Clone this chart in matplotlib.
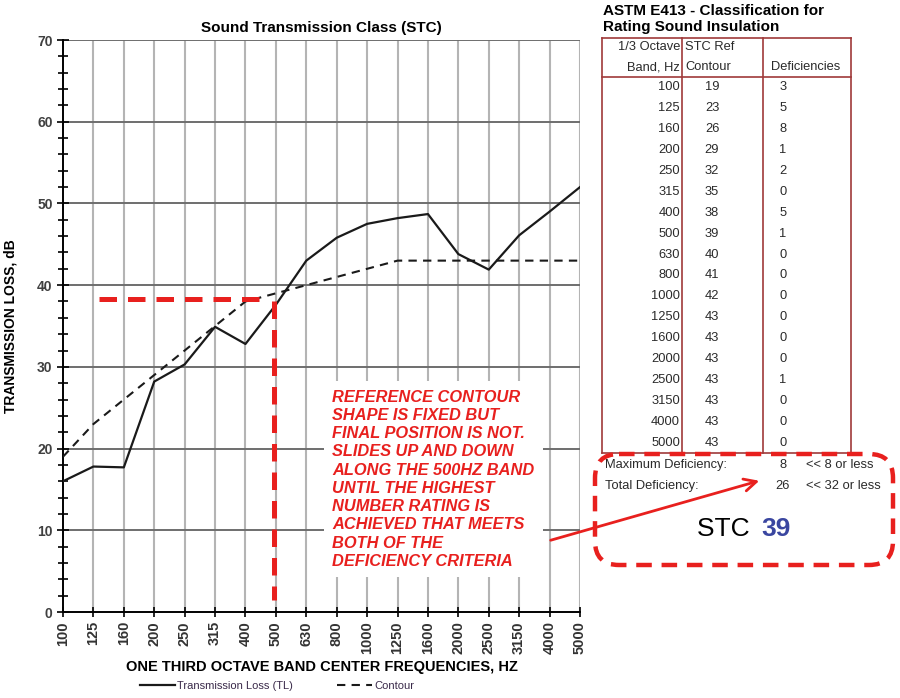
import numpy as np
import matplotlib
matplotlib.use("Agg")
import matplotlib.pyplot as plt
from matplotlib.patches import FancyBboxPatch

plt.rcParams['font.family'] = ['Liberation Sans', 'DejaVu Sans']

bands = ['100', '125', '160', '200', '250', '315', '400', '500', '630', '800',
         '1000', '1250', '1600', '2000', '2500', '3150', '4000', '5000']
tl = [16.0, 17.8, 17.7, 28.2, 30.3, 34.9, 32.8, 37.6, 43.0, 45.8,
      47.5, 48.2, 48.7, 43.8, 41.9, 46.1, 49.0, 52.0]
contour = [19, 23, 26, 29, 32, 35, 38, 39, 40, 41, 42, 43, 43, 43, 43, 43, 43, 43]
deficiencies = [3, 5, 8, 1, 2, 0, 5, 1, 0, 0, 0, 0, 0, 0, 1, 0, 0, 0]
stc_rating = 39
red = '#e8201e'
x = np.arange(len(bands))

fig = plt.figure(figsize=(9, 6.98), dpi=100)
ax = fig.add_axes([63 / 900, 1 - 612 / 698, 517 / 900, 572 / 698])

ax.plot(x, tl, color='#1a1a1a', lw=1.6, label='Transmission Loss (TL)', zorder=3)
ax.plot(x, contour, color='#1a1a1a', lw=1.5, ls=(0, (4, 3)), label='Contour', zorder=3)

# slide line at the 500 Hz band
ax.plot([1.2, 6.8], [38.3, 38.3], color=red, lw=3.6, ls=(0, (3.5, 2.2)), zorder=4)
ax.plot([6.93, 6.93], [38.0, 1.5], color=red, lw=3.6, ls=(0, (3.5, 2.2)), zorder=4)

ax.set_xlim(0, len(bands) - 1)
ax.set_ylim(0, 70)
ax.set_xticks(x)
ax.set_xticklabels(bands, rotation=90, fontsize=10.5, fontweight='bold', color='#333333')
ax.set_yticks(np.arange(0, 71, 10))
ax.set_yticks(np.arange(0, 71, 2), minor=True)
ax.tick_params(axis='y', which='major', labelsize=10, labelcolor='#404040', direction='inout',
               length=8, width=1.2)
ax.tick_params(axis='y', which='minor', direction='inout', length=7, width=1.2)
ax.tick_params(axis='x', direction='inout', length=7, width=1.2, pad=3)
for lbl in ax.get_yticklabels():
    lbl.set_fontweight('bold')
for xi in x[1:]:
    ax.axvline(xi, color='#b4b4b4', lw=1.5, zorder=1)
for yi in range(10, 71, 10):
    ax.axhline(yi, color='#6e6e6e', lw=1.4, zorder=1)
ax.spines['top'].set_visible(False)
ax.spines['right'].set_visible(False)
ax.spines['left'].set_linewidth(1.4)
ax.spines['bottom'].set_linewidth(1.4)

ax.set_title('Sound Transmission Class (STC)', fontsize=11, fontweight='bold', pad=6)
ax.set_ylabel('TRANSMISSION LOSS, dB', fontsize=10, fontweight='bold', labelpad=14)
ax.set_xlabel('ONE THIRD OCTAVE BAND CENTER FREQUENCIES, HZ', fontsize=10.5,
              fontweight='bold', labelpad=4)
leg = ax.legend(loc='center', bbox_to_anchor=(0.414, -0.13), ncol=2, frameon=False,
                fontsize=8, handlelength=3.2, columnspacing=3.9, handletextpad=0.2)
for t in leg.get_texts():
    t.set_color('#3a2a4a')

ax.text(8.85, 27.2, 'REFERENCE CONTOUR\nSHAPE IS FIXED BUT\nFINAL POSITION IS NOT.\n'
        'SLIDES UP AND DOWN\nALONG THE 500HZ BAND\nUNTIL THE HIGHEST\nNUMBER RATING IS\n'
        'ACHIEVED THAT MEETS\nBOTH OF THE\nDEFICIENCY CRITERIA',
        color=red, fontsize=11.8, fontweight='bold', fontstyle='italic',
        va='top', ha='left', linespacing=1.27, zorder=5,
        bbox=dict(facecolor='white', edgecolor='none', pad=6))

# overlay in pixel coordinates for the table panel
ov = fig.add_axes([0, 0, 1, 1])
ov.set_xlim(0, 900)
ov.set_ylim(698, 0)
ov.axis('off')
ov.patch.set_alpha(0)

ov.text(603, 4, 'ASTM E413 - Classification for\nRating Sound Insulation', fontsize=11,
        fontweight='bold', va='top', ha='left', linespacing=1.15)

tc = '#a03a3a'
top, hdr, bot = 38, 77, 453
cols = [602, 682, 763, 851]
for cx in cols:
    ov.plot([cx, cx], [top, bot], color=tc, lw=1.2)
ov.plot([cols[0], cols[-1]], [top, top], color=tc, lw=1.2)
ov.plot([cols[0], cols[-1]], [hdr, hdr], color=tc, lw=1.2)
ov.plot([cols[0], cols[-1]], [bot, bot], color=tc, lw=1.2)

fs = 9.3
tcol = '#2a2a2a'
ov.text(680, 47, '1/3 Octave', ha='right', va='center', fontsize=fs, color=tcol)
ov.text(680, 67, 'Band, Hz', ha='right', va='center', fontsize=fs, color=tcol)
ov.text(685, 47, 'STC Ref', ha='left', va='center', fontsize=fs, color=tcol)
ov.text(685, 67, 'Contour', ha='left', va='center', fontsize=fs, color=tcol)
ov.text(806, 67, 'Deficiencies', ha='center', va='center', fontsize=fs, color=tcol)

row_y = np.linspace(87, 443, len(bands))
for yy, b, c, d in zip(row_y, bands, contour, deficiencies):
    ov.text(680, yy, b, ha='right', va='center', fontsize=fs, color=tcol)
    ov.text(712, yy, str(c), ha='center', va='center', fontsize=fs, color=tcol)
    ov.text(783, yy, str(d), ha='center', va='center', fontsize=fs, color=tcol)

box = FancyBboxPatch((595, 454), 298, 111, boxstyle='round,pad=0,rounding_size=24',
                     fill=False, edgecolor=red, lw=3.2, ls=(0, (3.5, 2.2)), zorder=4)
ov.add_patch(box)

ov.text(605, 465, 'Maximum Deficiency:', ha='left', va='center', fontsize=fs, color=tcol)
ov.text(783, 465, str(max(deficiencies)), ha='center', va='center', fontsize=fs, color=tcol)
ov.text(806, 465, '<< 8 or less', ha='left', va='center', fontsize=fs, color=tcol)
ov.text(605, 486, 'Total Deficiency:', ha='left', va='center', fontsize=fs, color=tcol)
ov.text(783, 486, str(sum(deficiencies)), ha='center', va='center', fontsize=fs, color=tcol)
ov.text(806, 486, '<< 32 or less', ha='left', va='center', fontsize=fs, color=tcol)

ov.text(757, 529, 'STC ', ha='right', va='center', fontsize=19, color='black')
ov.text(761, 529, str(stc_rating), ha='left', va='center', fontsize=19, color='#3a46a0',
        fontweight='bold')

ov.annotate('', xy=(762, 480), xytext=(548, 541),
            arrowprops=dict(arrowstyle='->', color=red, lw=2, mutation_scale=22))

fig.savefig('out.png', dpi=100)
